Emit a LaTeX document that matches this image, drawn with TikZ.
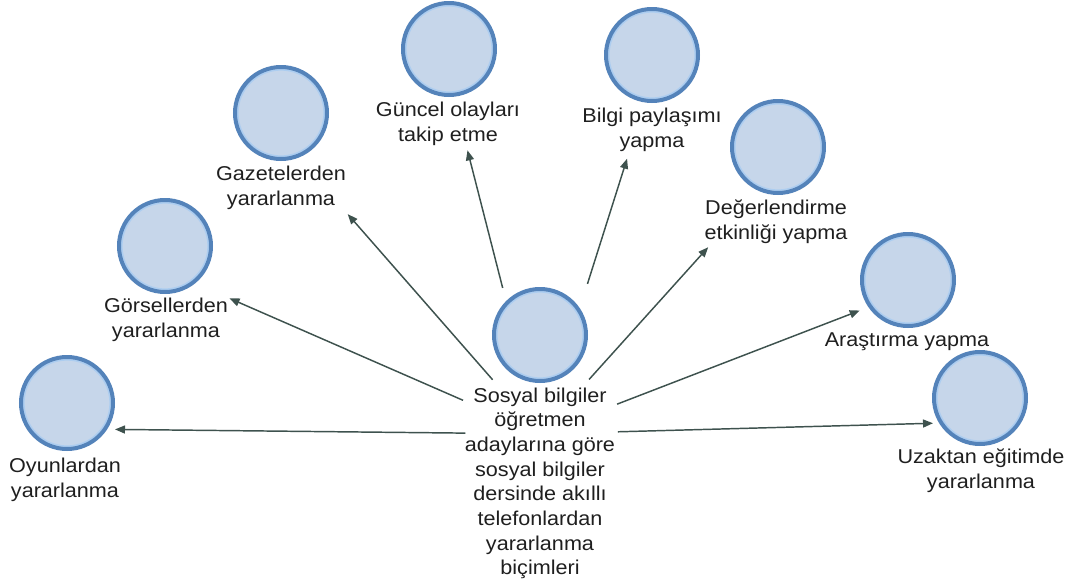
\documentclass[tikz,border=0pt]{standalone}
\usepackage{fontspec}
\setmainfont[FakeStretch=1.08]{Liberation Sans}
\usetikzlibrary{arrows.meta,fit}
\definecolor{ringc}{RGB}{84,131,186}
\definecolor{ringl}{RGB}{172,205,240}
\definecolor{fillc}{RGB}{198,214,234}
\definecolor{arrc}{RGB}{62,82,78}
\begin{document}
\begin{tikzpicture}[x=0.75pt,y=-0.75pt,
  bub/.style={circle, draw=ringc, line width=3pt, fill=fillc, minimum size=69pt, inner sep=0pt,
     path picture={\draw[ringl, line width=1.2pt] (path picture bounding box.center) circle[radius=32.4pt];}},
  lbl/.style={align=center, inner sep=1pt, font=\fontsize{15}{18.5}\selectfont, text=black!88},
  grp/.style={inner sep=0pt},
  conn/.style={draw=arrc, line width=1.1pt, -{Triangle[length=7.5pt,width=6pt]}, fill=arrc}
]
\useasboundingbox (0,0) rectangle (1072,586);

% centre
\node[bub] (c) at (540,335) {};
\node[lbl] (cL) at (540,483.5) {Sosyal bilgiler\\öğretmen\\adaylarına göre\\sosyal bilgiler\\dersinde akıllı\\telefonlardan\\yararlanma\\biçimleri};
\node[grp, fit=(c)(cL)] (hub) {};

% targets
\node[bub] (oyun) at (67,403) {};
\node[lbl] (oyunL) at (65,479.5) {Oyunlardan\\yararlanma};
\node[grp, fit=(oyun)(oyunL)] (oyunG) {};

\node[bub] (gors) at (165,246) {};
\node[lbl] (gorsL) at (166,320) {Görsellerden\\yararlanma};
\node[grp, fit=(gors)(gorsL)] (gorsG) {};

\node[bub] (gaze) at (281,113) {};
\node[lbl] (gazeL) at (281,187.5) {Gazetelerden\\yararlanma};
\node[grp, fit=(gaze)(gazeL)] (gazeG) {};

\node[bub] (gunc) at (449,49) {};
\node[lbl] (guncL) at (448,124) {Güncel olayları\\takip etme};
\node[grp, fit=(gunc)(guncL)] (guncG) {};

\node[bub] (bilg) at (652,55) {};
\node[lbl] (bilgL) at (652,129.5) {Bilgi paylaşımı\\yapma};
\node[grp, fit=(bilg)(bilgL)] (bilgG) {};

\node[bub] (dege) at (778,147) {};
\node[lbl] (degeL) at (776,221.5) {Değerlendirme\\etkinliği yapma};
\node[grp, fit=(dege)(degeL)] (degeG) {};

\node[bub] (aras) at (908,280) {};
\node[lbl] (arasL) at (907,342) {Araştırma yapma};
\node[grp, fit=(aras)(arasL)] (arasG) {};

\node[bub] (uzak) at (980,398) {};
\node[lbl] (uzakL) at (981,470.5) {Uzaktan eğitimde\\yararlanma};
\node[grp, fit=(uzak)(uzakL)] (uzakG) {};

% connectors
\draw[conn, shorten <=56pt, shorten >=37.5pt] (hub.center) -- (oyunG.center);
\draw[conn, shorten <=63pt, shorten >=52pt] (hub.center) -- (gorsG.center);
\draw[conn, shorten <=54pt, shorten >=76pt] (hub.center) -- (gazeG.center);
\draw[conn, shorten <=113pt, shorten >=59pt] (hub.center) -- (guncG.center);
\draw[conn, shorten <=118pt, shorten >=62pt] (hub.center) -- (bilgG.center);
\draw[conn, shorten <=55pt, shorten >=76pt] (hub.center) -- (degeG.center);
\draw[conn, shorten <=62pt, shorten >=38pt] (hub.center) -- (arasG.center);
\draw[conn, shorten <=58.5pt, shorten >=36pt] (hub.center) -- (uzakG.center);
\end{tikzpicture}
\end{document}
